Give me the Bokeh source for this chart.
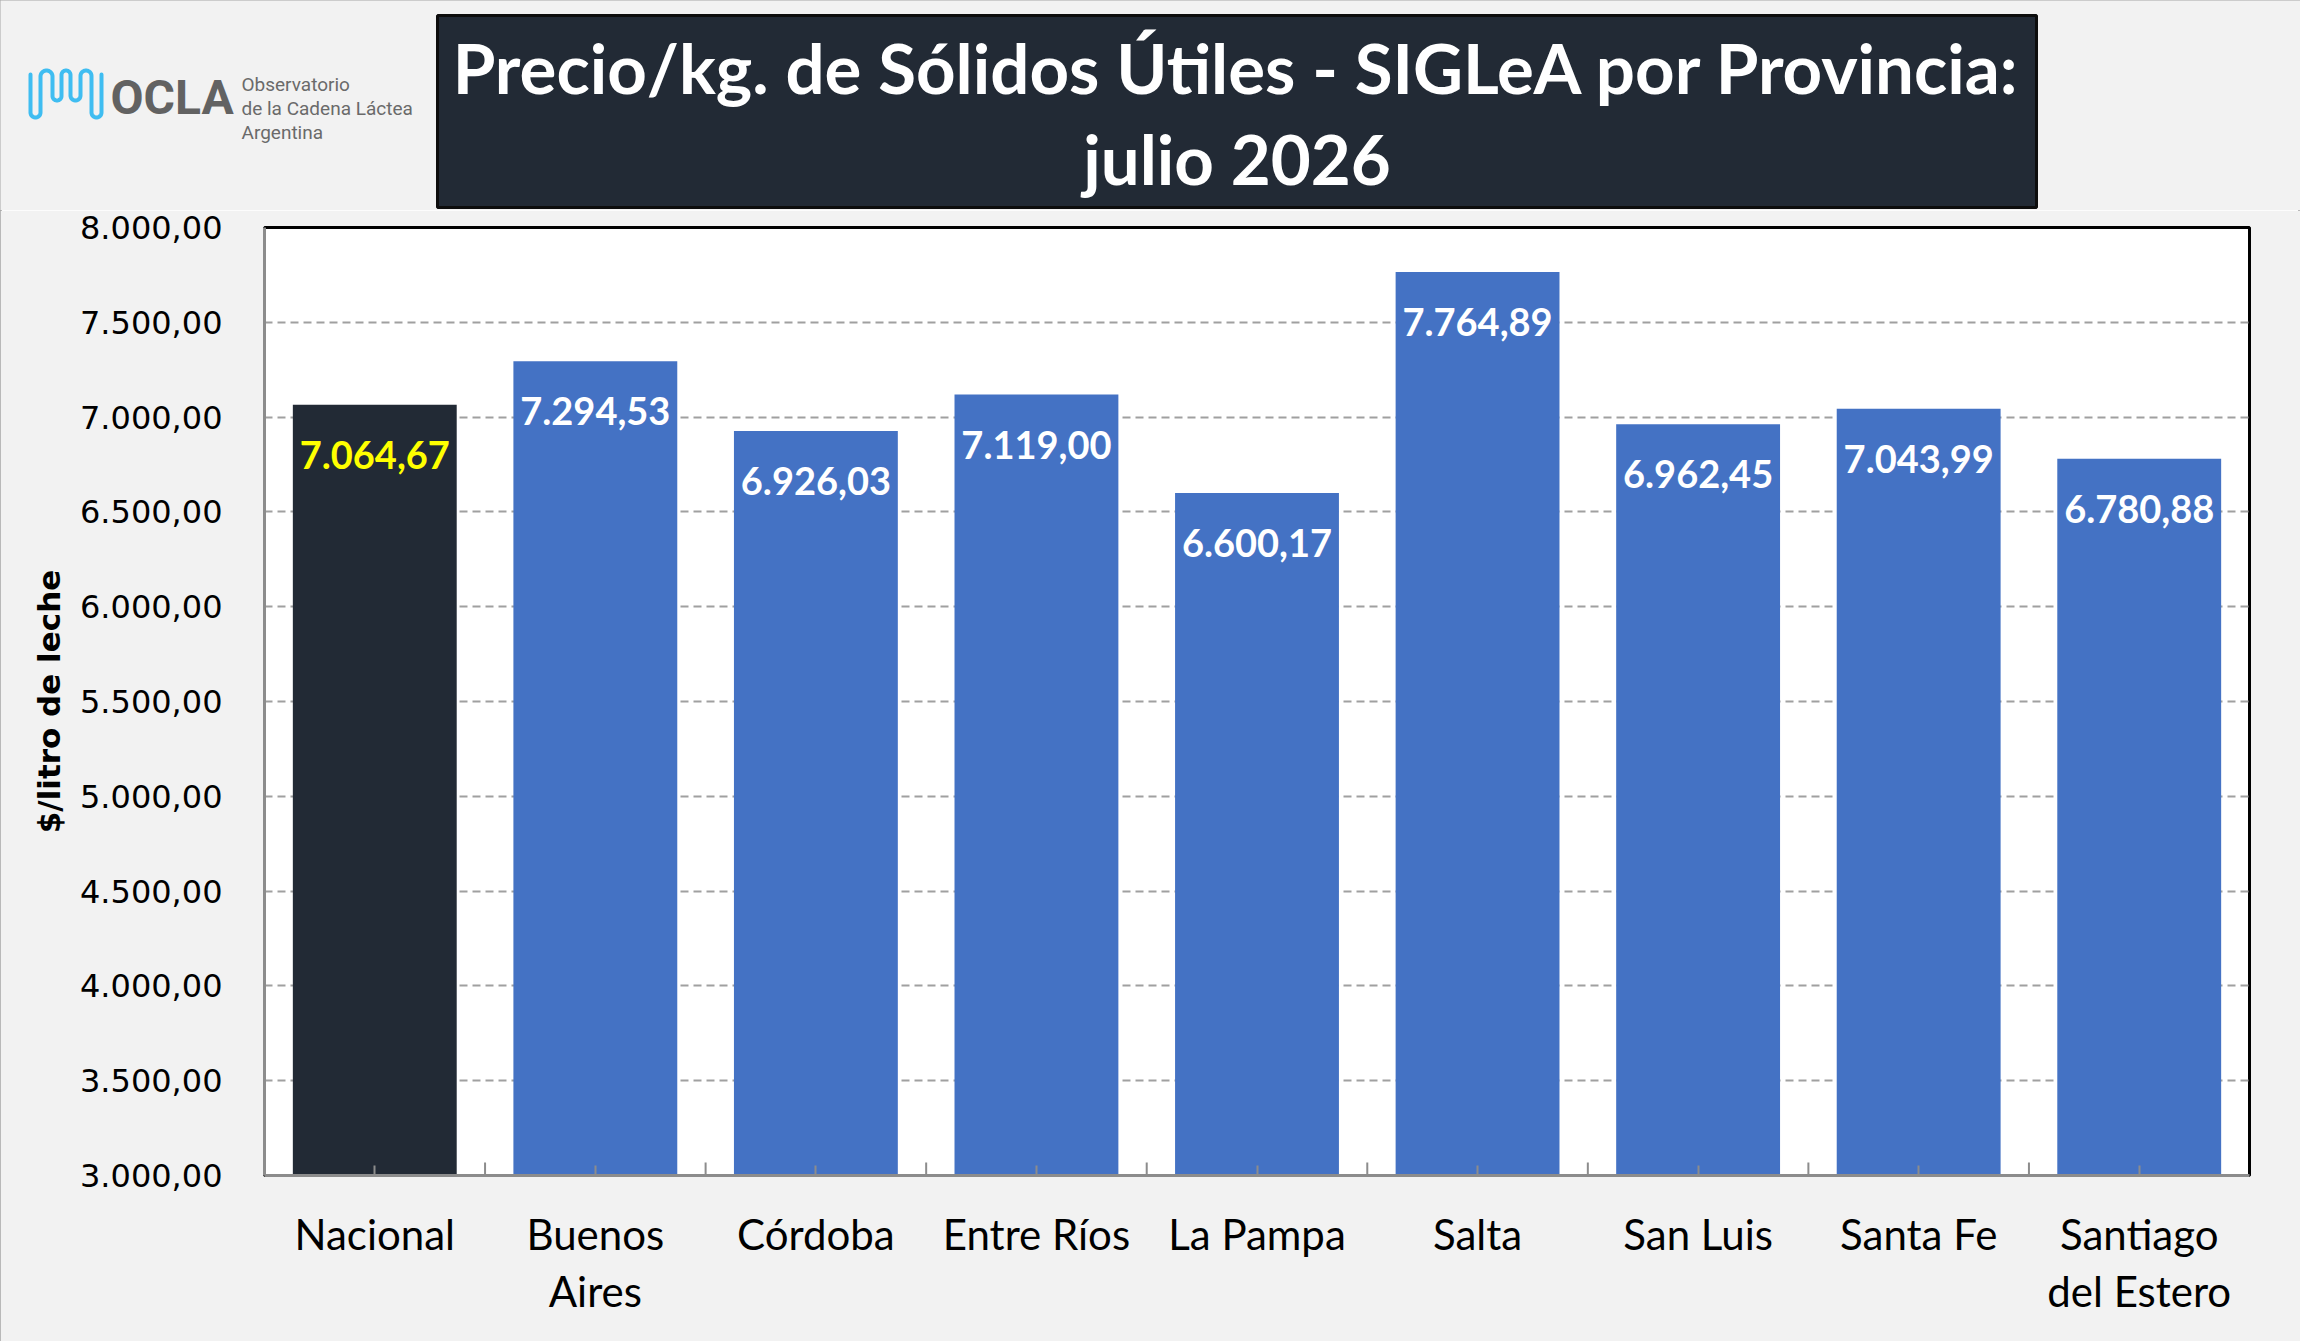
import math
import numpy as np
from bokeh.plotting import figure
from bokeh.models import ColumnDataSource, Range1d, FactorRange, FixedTicker
from bokeh.layouts import column
from bokeh.core.properties import value
from bokeh.transform import dodge
from bokeh.embed import file_html
from bokeh.resources import INLINE

# ---------------- data ----------------
categories = ["Nacional", "Buenos\nAires", "Córdoba", "Entre Ríos", "La Pampa",
              "Salta", "San Luis", "Santa Fe", "Santiago\ndel Estero"]
values = [7064.67, 7294.53, 6926.03, 7119.00, 6600.17, 7764.89, 6962.45, 7043.99, 6780.88]
y_ticks = [3000, 3500, 4000, 4500, 5000, 5500, 6000, 6500, 7000, 7500, 8000]
title_lines = ["Precio/kg. de Sólidos Útiles - SIGLeA por Provincia:", "julio 2026"]
y_label = "$/litro de leche"
logo_lines = ["Observatorio", "de la Cadena Láctea", "Argentina"]


def fmt(v):
    s = f"{v:,.2f}"
    return s.replace(",", "X").replace(".", ",").replace("X", ".")


W = 2300
H1 = 210
H2 = 1131
BG = "#f2f2f2"

# ---------------- header (logo + title box) ----------------
hdr = figure(width=W, height=H1, x_range=Range1d(0, W), y_range=Range1d(H1, 0),
             output_backend="svg", toolbar_location=None,
             x_axis_location=None, y_axis_location=None, min_border=0,
             outline_line_color=None, background_fill_color=BG, border_fill_color=BG)
hdr.grid.visible = False
hdr.frame_align = False

# logo meander
xs_v = [30, 40, 52, 61, 70, 80, 91, 101]
tops = 70
bottoms = [117, 100, 100, 117]
px, py = [], []
th = np.linspace(math.pi, 0, 20)
px.append(xs_v[0]); py.append(tops + 4)
for k in range(4):
    a, b = xs_v[2 * k], xs_v[2 * k + 1]
    r = (b - a) / 2.0
    yb = bottoms[k]
    px += list((a + b) / 2 + r * np.cos(th)); py += list(yb - r + r * np.sin(th))
    if k < 3:
        c = xs_v[2 * k + 2]
        r2 = (c - b) / 2.0
        px += list((b + c) / 2 + r2 * np.cos(th)); py += list(tops + r2 - r2 * np.sin(th))
px.append(xs_v[-1]); py.append(tops + 4)
hdr.line(px, py, line_color="#3fbdf1", line_width=4, line_cap="round", line_join="round")

hdr.text(x=[110], y=[97], text=["OCLA"], text_color="#626262", text_font=value("Roboto"),
         text_font_style="bold", text_font_size="48px", text_baseline="alphabetic")
hdr.text(x=[241, 241, 241], y=[84, 108, 132], text=logo_lines, text_color="#6a6a6a",
         text_font=value("Roboto"), text_font_size="19px", text_baseline="alphabetic")

hdr.quad(left=[437], right=[2036], top=[15], bottom=[207], fill_color="#222a35",
         line_color="#0d0d0d", line_width=3)
hdr.text(x=[1236.5, 1236.5], y=[66.5, 157.5], text=title_lines, text_align="center",
         text_baseline="alphabetic", text_color="white", text_font=value("Lato"),
         text_font_style="bold", text_font_size="69px")

# ---------------- main chart ----------------
p = figure(width=W, height=H2, x_range=FactorRange(*categories), y_range=Range1d(3000, 8000),
           output_backend="svg", toolbar_location=None,
           min_border_left=264, min_border_right=51, min_border_top=17, min_border_bottom=166,
           background_fill_color="white", border_fill_color=BG,
           outline_line_color="black", outline_line_width=3)
p.frame_align = False

p.xgrid.visible = False
p.ygrid.ticker = FixedTicker(ticks=y_ticks)
p.ygrid.grid_line_color = "#a0a0a0"
p.ygrid.grid_line_dash = "8 5"
p.ygrid.grid_line_width = 2

src = ColumnDataSource(dict(
    cat=categories,
    val=values,
    lab=[fmt(v) for v in values],
    color=["#222a35" if c == "Nacional" else "#4472c4" for c in categories],
    tcolor=["#ffff00" if c == "Nacional" else "white" for c in categories],
))

p.vbar(x="cat", top="val", bottom=y_ticks[0], width=0.743, fill_color="color",
       line_color=None, source=src)
p.text(x="cat", y="val", text="lab", text_color="tcolor", text_align="center",
       text_baseline="alphabetic", y_offset=50, text_font=value("Lato"),
       text_font_style="bold", text_font_size="38px", source=src)

# tick marks between categories
sep = ColumnDataSource(dict(cat=categories[:-1], y=[y_ticks[0]] * (len(categories) - 1)))
p.scatter(x=dodge("cat", 0.5, range=p.x_range), y="y", marker="dash", angle=math.pi / 2,
          size=26, line_color="#8c8c8c", line_width=2, source=sep)

xa = p.xaxis[0]
xa.major_label_text_font = "Lato"
xa.major_label_text_font_size = "42px"
xa.major_label_text_color = "black"
xa.major_label_text_line_height = 1.14
xa.major_label_standoff = 33
xa.major_tick_in = 10
xa.major_tick_out = 0
xa.major_tick_line_color = "#8c8c8c"
xa.major_tick_line_width = 2
xa.minor_tick_line_color = None
xa.axis_line_color = "#8c8c8c"
xa.axis_line_width = 3

ya = p.yaxis[0]
ya.ticker = FixedTicker(ticks=y_ticks)
ya.major_label_overrides = {t: fmt(t) for t in y_ticks}
ya.major_label_text_font = "DejaVu Sans"
ya.major_label_text_font_size = "32px"
ya.major_label_text_color = "black"
ya.major_label_standoff = 42
ya.major_tick_in = 0
ya.major_tick_out = 0
ya.minor_tick_in = 0
ya.minor_tick_out = 0
ya.axis_line_color = "#8c8c8c"
ya.axis_line_width = 3
ya.axis_label = y_label
ya.axis_label_text_font = "DejaVu Sans"
ya.axis_label_text_font_style = "bold"
ya.axis_label_text_font_size = "31px"
ya.axis_label_text_color = "black"
ya.axis_label_standoff = 10

layout = column(hdr, p, spacing=0,
                styles={"outline": "2px solid #a6a6a6", "outline-offset": "-2px"})
open("out.html", "w").write(file_html(layout, INLINE))
